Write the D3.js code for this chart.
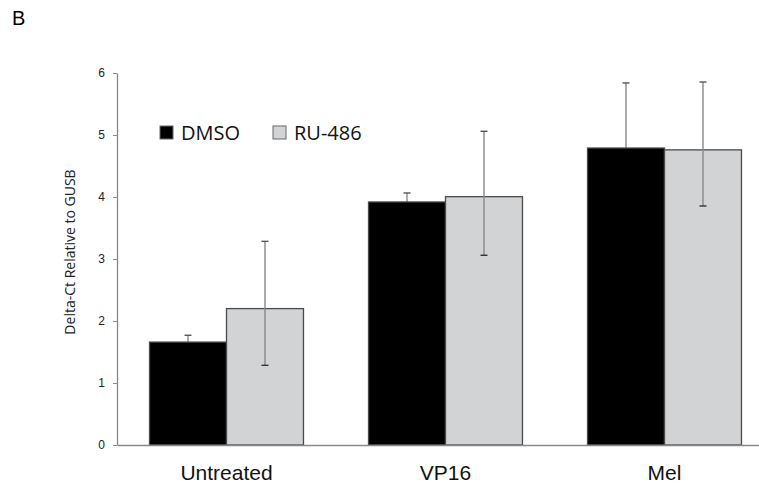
<!DOCTYPE html>
<html>
<head>
<meta charset="utf-8">
<script src="https://cdn.jsdelivr.net/npm/d3@7"></script>
<style>
  body { margin: 0; background: #fff; }
  svg { display: block; font-family: "Open Sans", sans-serif; }
</style>
</head>
<body>
<div id="chart"></div>
<script>
// Chart data
const categories = ['Untreated', 'VP16', 'Mel'];
const seriesNames = ['DMSO', 'RU-486'];
const dmsoValues = [1.66, 3.92, 4.79];
const dmsoErrUp = [0.11, 0.145, 1.05];
const dmsoErrDown = [0.11, 0.145, 1.05];
const ruValues = [2.20, 4.005, 4.76];
const ruErrUp = [1.085, 1.055, 1.095];
const ruErrDown = [0.915, 0.945, 0.905];
const yTicks = [0, 1, 2, 3, 4, 5, 6];

const width = 759;
const height = 492;
const margin = { top: 73, right: -15, bottom: 47, left: 117 };

const colors = { 'DMSO': '#000000', 'RU-486': '#d2d3d5' };

// Build rows for drawing
const rows = categories.map((c, i) => ({
  category: c,
  bars: [
    { series: 'DMSO', value: dmsoValues[i], up: dmsoErrUp[i], down: dmsoErrDown[i] },
    { series: 'RU-486', value: ruValues[i], up: ruErrUp[i], down: ruErrDown[i] },
  ]
}));

const svg = d3.select('#chart')
  .append('svg')
  .attr('width', width)
  .attr('height', height);

const x0 = d3.scaleBand()
  .domain(categories)
  .range([margin.left, width - margin.right])
  .paddingInner(0.297)
  .paddingOuter(0.1485);

const x1 = d3.scaleBand()
  .domain(seriesNames)
  .range([0, x0.bandwidth()]);

const y = d3.scaleLinear()
  .domain([0, 6])
  .range([height - margin.bottom, margin.top]);

// Panel letter
svg.append('text')
  .attr('x', 12)
  .attr('y', 25)
  .style('font-size', '20px')
  .style('font-family', 'Arial, "Liberation Sans", sans-serif')
  .text('B');

function drawErrors(sel) {
  const cx = (d) => x1(d.series) + x1.bandwidth() / 2;
  sel.append('line')
    .attr('stroke', '#888')
    .attr('stroke-width', 1.4)
    .attr('x1', cx).attr('x2', cx)
    .attr('y1', (d) => y(d.value + d.up))
    .attr('y2', (d) => y(d.value - d.down));
  sel.append('line')
    .attr('stroke', '#555')
    .attr('stroke-width', 1.4)
    .attr('x1', (d) => cx(d) - 3.5).attr('x2', (d) => cx(d) + 3.5)
    .attr('y1', (d) => y(d.value + d.up))
    .attr('y2', (d) => y(d.value + d.up));
  sel.append('line')
    .attr('stroke', '#333')
    .attr('stroke-width', 1.4)
    .attr('x1', (d) => cx(d) - 3.5).attr('x2', (d) => cx(d) + 3.5)
    .attr('y1', (d) => y(d.value - d.down))
    .attr('y2', (d) => y(d.value - d.down));
}

const groups = svg.append('g')
  .selectAll('g')
  .data(rows)
  .join('g')
  .attr('transform', (d) => `translate(${x0(d.category)},0)`);

// DMSO error bars go behind the black bars (lower half hidden)
groups.append('g')
  .selectAll('g')
  .data((d) => d.bars.filter((b) => b.series === 'DMSO'))
  .join('g')
  .call(drawErrors);

// Bars
groups.append('g')
  .selectAll('rect')
  .data((d) => d.bars)
  .join('rect')
  .attr('x', (d) => x1(d.series))
  .attr('y', (d) => y(d.value))
  .attr('width', x1.bandwidth())
  .attr('height', (d) => y(0) - y(d.value))
  .attr('fill', (d) => colors[d.series])
  .attr('stroke', '#4a4a4a')
  .attr('stroke-width', 1.3);

// RU-486 error bars on top
groups.append('g')
  .selectAll('g')
  .data((d) => d.bars.filter((b) => b.series === 'RU-486'))
  .join('g')
  .call(drawErrors);

// Y axis
const yAxis = svg.append('g')
  .attr('transform', `translate(${margin.left},0)`)
  .call(d3.axisLeft(y).tickValues(yTicks).tickFormat(d3.format('d'))
    .tickSize(4).tickSizeOuter(0).tickPadding(8));

yAxis.select('.domain').attr('stroke', '#888').attr('stroke-width', 1.3);
yAxis.selectAll('.tick line').attr('stroke', '#888');
yAxis.selectAll('.tick text')
  .style('font-size', '12px')
  .attr('fill', '#222');

// X axis
const xAxis = svg.append('g')
  .attr('transform', `translate(0,${y(0)})`)
  .call(d3.axisBottom(x0).tickSize(0).tickPadding(20));

xAxis.select('.domain').attr('stroke', '#888').attr('stroke-width', 1.3);
xAxis.selectAll('.tick text')
  .style('font-size', '21px')
  .attr('fill', '#111');

// Y axis title
svg.append('text')
  .attr('transform', 'translate(75,252) rotate(-90)')
  .attr('text-anchor', 'middle')
  .style('font-size', '14px')
  .attr('fill', '#222')
  .text('Delta-Ct Relative to GUSB');

// Legend
const legend = svg.append('g')
  .selectAll('g')
  .data(seriesNames)
  .join('g')
  .attr('transform', (d, i) => `translate(${160 + i * 113},126)`);

legend.append('rect')
  .attr('width', 13)
  .attr('height', 13)
  .attr('fill', (d) => colors[d])
  .attr('stroke', '#666')
  .attr('stroke-width', 1);

legend.append('text')
  .attr('x', 21)
  .attr('y', 13.5)
  .style('font-size', '20px')
  .attr('fill', '#111')
  .text((d) => d);
</script>
</body>
</html>
